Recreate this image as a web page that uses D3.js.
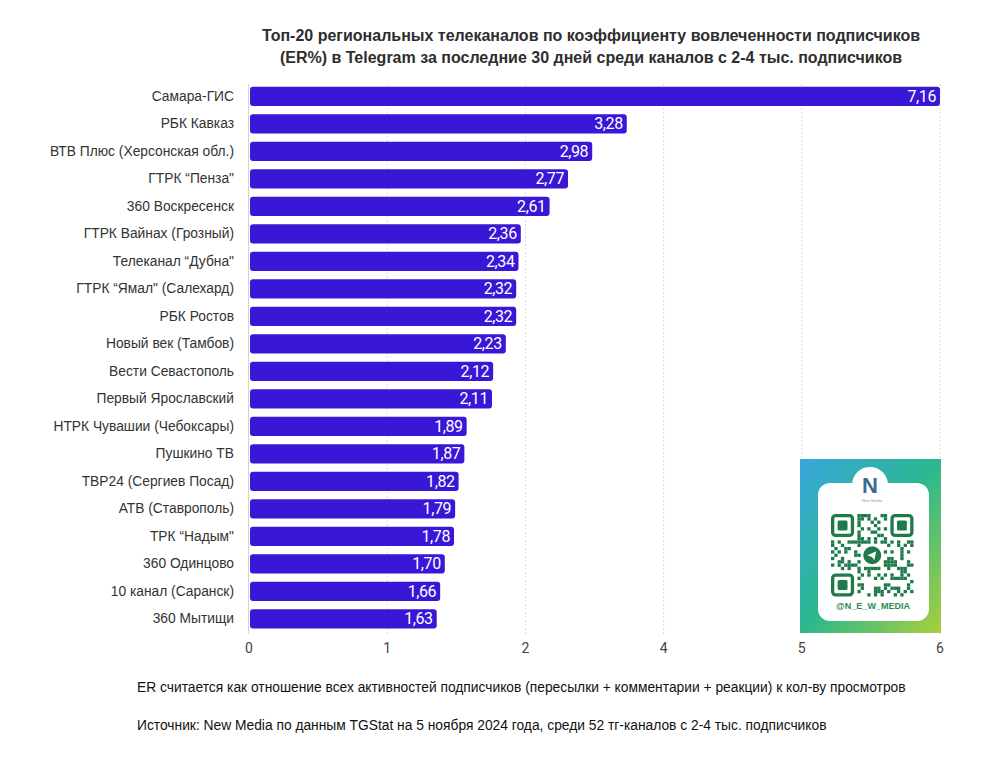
<!DOCTYPE html>
<html><head><meta charset="utf-8">
<script src="https://cdn.jsdelivr.net/npm/d3@7"></script>
<style>
body{margin:0;background:#fff;}
svg{display:block;}
</style></head>
<body>
<svg id="c" width="1000" height="759"></svg>
<script>
const categories = ["Самара-ГИС","РБК Кавказ","ВТВ Плюс (Херсонская обл.)","ГТРК “Пенза\"","360 Воскресенск","ГТРК Вайнах (Грозный)","Телеканал “Дубна\"","ГТРК “Ямал\" (Салехард)","РБК Ростов","Новый век (Тамбов)","Вести Севастополь","Первый Ярославский","НТРК Чувашии (Чебоксары)","Пушкино ТВ ","ТВР24 (Сергиев Посад)","АТВ (Ставрополь)","ТРК “Надым\"","360 Одинцово","10 канал (Саранск)","360 Мытищи"];
const values = [7.16,3.28,2.98,2.77,2.61,2.36,2.34,2.32,2.32,2.23,2.12,2.11,1.89,1.87,1.82,1.79,1.78,1.70,1.66,1.63];
const tickLabels = ["0","1","2","4","5","6"];
const titleLines = ["Топ-20 региональных телеканалов по коэффициенту вовлеченности подписчиков","(ER%) в Telegram за последние 30 дней среди каналов с 2-4 тыс. подписчиков"];
const notes = ["ER считается как отношение всех активностей подписчиков (пересылки + комментарии + реакции) к кол-ву просмотров","Источник: New Media по данным TGStat на 5 ноября 2024 года, среди 52 тг-каналов с 2-4 тыс. подписчиков"];

const svg = d3.select("#c");
const x0 = 249, x1 = 940;
const x = d3.scaleLinear().domain([0,6]).range([x0,x1]);
const xt = d3.scalePoint().domain(tickLabels).range([x0,x1]);
const y = d3.scaleBand().domain(categories).range([82.5,632.5]).paddingInner(0.3).paddingOuter(0.15);

// gridlines
svg.append("g").selectAll("line").data(tickLabels.slice(1)).join("line")
  .attr("x1",d=>xt(d)).attr("x2",d=>xt(d)).attr("y1",84).attr("y2",634)
  .attr("stroke","#dcdcdc").attr("stroke-dasharray","2,2").attr("stroke-width",1);
svg.append("line").attr("x1",x0-0.5).attr("x2",x0-0.5).attr("y1",84).attr("y2",634)
  .attr("stroke","#d2d2d2").attr("stroke-width",1);

// tick labels
svg.append("g").selectAll("text").data(tickLabels).join("text")
  .attr("x",d=>xt(d)).attr("y",653).attr("text-anchor","middle")
  .attr("font-family","Roboto, 'Liberation Sans', sans-serif").attr("font-size",14).attr("fill","#444")
  .text(d=>d);

// bars
svg.append("g").selectAll("rect").data(values).join("rect")
  .attr("x",x0+1).attr("y",(d,i)=>y(categories[i]))
  .attr("width",d=>x(Math.min(d,6))-x0-1).attr("height",y.bandwidth())
  .attr("rx",3).attr("fill","#3a16d6");

// value labels
svg.append("g").selectAll("text").data(values).join("text")
  .attr("x",d=>x(Math.min(d,6))-4).attr("y",(d,i)=>y(categories[i])+y.bandwidth()/2+5.5)
  .attr("text-anchor","end").attr("fill","#fff")
  .attr("font-family","Roboto, sans-serif").attr("font-size",16).attr("letter-spacing",-0.4)
  .text(d=>d.toFixed(2).replace(".",","));

// category labels
svg.append("g").selectAll("text").data(categories).join("text")
  .attr("x",234).attr("y",d=>y(d)+y.bandwidth()/2+4.5).attr("text-anchor","end")
  .attr("font-family","'Liberation Sans', Arial, sans-serif").attr("font-size",13.8).attr("fill","#333")
  .text(d=>d);

// title
svg.append("g").selectAll("text").data(titleLines).join("text")
  .attr("x",591).attr("y",(d,i)=>41+i*22).attr("text-anchor","middle")
  .attr("font-family","'Liberation Sans', sans-serif").attr("font-weight","bold")
  .attr("font-size",16).attr("fill","#2e2e2e").text(d=>d);

// notes
svg.append("g").selectAll("text").data(notes).join("text")
  .attr("x",137).attr("y",(d,i)=>692+i*38)
  .attr("font-family","'Liberation Sans', sans-serif")
  .attr("font-size",13.8).attr("fill","#111").text(d=>d);

// QR card
const defs = svg.append("defs");
const lg = defs.append("linearGradient").attr("id","g1").attr("x1","0").attr("y1","0").attr("x2","1").attr("y2","1");
lg.append("stop").attr("offset","0").attr("stop-color","#3aa6de");
lg.append("stop").attr("offset","0.5").attr("stop-color","#2bb88f");
lg.append("stop").attr("offset","1").attr("stop-color","#a8cf3a");
const qr = svg.append("g");
qr.append("rect").attr("x",800).attr("y",459).attr("width",141).attr("height",174).attr("fill","url(#g1)");
qr.append("rect").attr("x",818).attr("y",483).attr("width",111).attr("height",138).attr("rx",12).attr("fill","#fff");
qr.append("circle").attr("cx",870).attr("cy",485).attr("r",18).attr("fill","#fff");
qr.append("text").attr("x",870).attr("y",493).attr("text-anchor","middle").attr("font-family","'Liberation Sans', sans-serif")
  .attr("font-weight","bold").attr("font-size",22).attr("fill","#3b6b8a").text("N");
qr.append("text").attr("x",872).attr("y",502).attr("text-anchor","middle").attr("font-family","'Liberation Sans', sans-serif")
  .attr("font-size",4).attr("fill","#999").text("New Media");
const qx=831, qy=514, cell=3.3, n=25, green="#1f7a4a";
const seed="N_E_W_MEDIA telegram new media channel";
const mods=[];
for(let r=0;r<n;r++)for(let c=0;c<n;c++){
  const inF=(r<8&&c<8)||(r<8&&c>=n-8)||(r>=n-8&&c<8);
  if(inF) continue;
  if(r>=9&&r<=15&&c>=9&&c<=15) continue;
  const h=(seed.charCodeAt((r*7+c*13)%seed.length)*(r+3)*(c+5)+r*c)%7;
  if(h<3) mods.push([r,c]);
}
qr.append("g").selectAll("rect").data(mods).join("rect")
  .attr("x",d=>qx+d[1]*cell).attr("y",d=>qy+d[0]*cell).attr("width",cell).attr("height",cell).attr("fill",green);
[[0,0],[0,n-7],[n-7,0]].forEach(([r,c])=>{
  qr.append("rect").attr("x",qx+c*cell+cell/2).attr("y",qy+r*cell+cell/2).attr("width",6*cell).attr("height",6*cell)
    .attr("rx",3).attr("fill","none").attr("stroke",green).attr("stroke-width",cell);
  qr.append("rect").attr("x",qx+(c+2)*cell).attr("y",qy+(r+2)*cell).attr("width",3*cell).attr("height",3*cell).attr("rx",1.5).attr("fill",green);
});
qr.append("circle").attr("cx",qx+12.5*cell).attr("cy",qy+12.5*cell).attr("r",9).attr("fill",green);
qr.append("path").attr("d",`M${qx+12.5*cell-5},${qy+12.5*cell} l9,-4 l-2,9 l-2,-3 z`).attr("fill","#fff");
qr.append("text").attr("x",873).attr("y",609).attr("text-anchor","middle").attr("font-family","'Liberation Sans', sans-serif")
  .attr("font-weight","bold").attr("font-size",9).attr("fill","#2b8a58").text("@N_E_W_MEDIA");
</script>
</body></html>
